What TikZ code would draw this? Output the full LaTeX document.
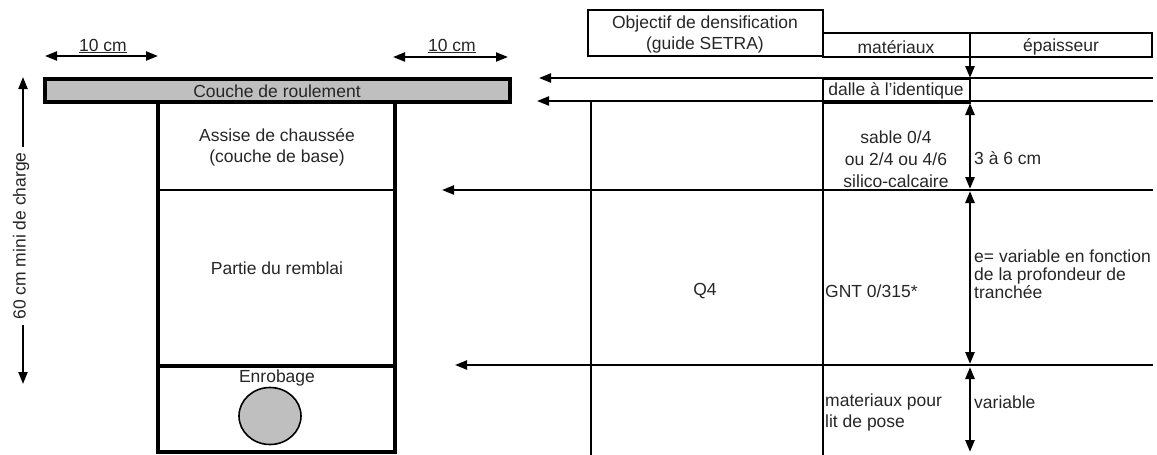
\documentclass[tikz,border=0pt]{standalone}
\usepackage{fontspec}
\setmainfont{Liberation Sans}
\usetikzlibrary{arrows.meta}
\begin{document}
\begin{tikzpicture}[x=1pt,y=-1pt,
  txt/.style={font=\fontsize{17.5}{21}\selectfont, text=black!85, inner sep=0pt},
  ltxt/.style={txt, anchor=west, align=left},
  ctxt/.style={txt, align=center},
  onetip/.style={-{Triangle[length=12pt,width=9pt]}},
  twotips/.style={{Triangle[length=12pt,width=9pt]}-{Triangle[length=12pt,width=9pt]}},
  heavy/.style={line width=3.8pt},
  medium/.style={line width=2.6pt},
  light/.style={line width=2.1pt},
  greyfill/.style={fill=black!25}
]
\useasboundingbox (0,0) rectangle (1157,455);

% ---------- left: trench cross-section ----------
\draw[heavy, greyfill] (45,79) rectangle (510,102);
\node[txt] (roul) at (277,91) {Couche de roulement};

\draw[heavy] (158,102) -- (158,452) -- (395,452) -- (395,102);
\draw[medium] (158,190) -- (395,190);
\draw[heavy] (158,366) -- (395,366);

\node[ctxt] (assise) at (277,147) {Assise de chaussée\\(couche de base)};
\node[txt] (remblai) at (277,268) {Partie du remblai};
\node[txt] (enrob) at (277,378) {Enrobage};
\draw[line width=1.6pt, greyfill] (270,416) ellipse [x radius=31, y radius=28.5];

% dimension arrows
\coordinate (a1) at (45,56);  \coordinate (a2) at (158,56);
\draw[light, twotips] (a1) -- (a2);
\node[txt] (d1) at (103,46) {\underline{10 cm}};
\coordinate (b1) at (393,57); \coordinate (b2) at (508,57);
\draw[light, twotips] (b1) -- (b2);
\node[txt] (d2) at (452,46) {\underline{10 cm}};

\coordinate (v1) at (23,77); \coordinate (v2) at (23,384);
\draw[light, twotips] (v1) -- (v2);
\node[txt, rotate=90, fill=white, inner xsep=5pt] (charge) at (21,236) {60 cm mini de charge};

% ---------- right: table ----------
\draw[medium] (588,10) rectangle (823,56);
\node[ctxt] (obj) at (705,34) {Objectif de densification\\(guide SETRA)};
\draw[medium] (823,33) rectangle (1152,57);
\draw[medium] (970,33) -- (970,57);
\node[txt] (mat) at (896,47) {matériaux};
\node[txt] (ep) at (1061,47) {épaisseur};

% horizontal leader arrows
\coordinate (h1r) at (1153,78);  \coordinate (h1l) at (539,78);
\coordinate (h2r) at (1153,101); \coordinate (h2l) at (537,101);
\coordinate (h3r) at (1153,190); \coordinate (h3l) at (442,190);
\coordinate (h4r) at (1153,365); \coordinate (h4l) at (455,365);
\draw[light, onetip] (h1r) -- (h1l);
\draw[light, onetip] (h2r) -- (h2l);
\draw[light, onetip] (h3r) -- (h3l);
\draw[light, onetip] (h4r) -- (h4l);

\draw[medium] (823,79) rectangle (970,103);
\node[txt] (dalle) at (896,91) {dalle à l'identique};

% vertical lines
\draw[medium] (591,101) -- (591,455);
\draw[medium] (823,103) -- (823,455);

% thickness arrows
\coordinate (e0) at (970,57);  \coordinate (e1) at (970,78);
\draw[medium, onetip] (e0) -- (e1);
\coordinate (f0) at (970,103); \coordinate (f1) at (970,189);
\draw[medium, twotips] (f0) -- (f1);
\coordinate (g0) at (970,191); \coordinate (g1) at (970,364);
\draw[medium, twotips] (g0) -- (g1);
\coordinate (k0) at (970,367); \coordinate (k1) at (970,452);
\draw[medium, twotips] (k0) -- (k1);

% cell texts
\node[txt, align=center, font=\fontsize{17.5}{22}\selectfont] (sable) at (896,159) {sable 0/4\\ou 2/4 ou 4/6\\silico-calcaire};
\node[ltxt] (e36) at (974,158) {3 à 6 cm};
\node[txt] (q4) at (705,291) {Q4};
\node[ltxt] (gnt) at (825,291) {GNT 0/315*};
\node[ltxt, font=\fontsize{17.5}{18}\selectfont] (evar) at (974,274) {e= variable en fonction\\de la profondeur de\\tranchée};
\node[ltxt] (lit) at (825,412) {materiaux pour\\lit de pose};
\node[ltxt] (var) at (974,402) {variable};
\end{tikzpicture}
\end{document}
